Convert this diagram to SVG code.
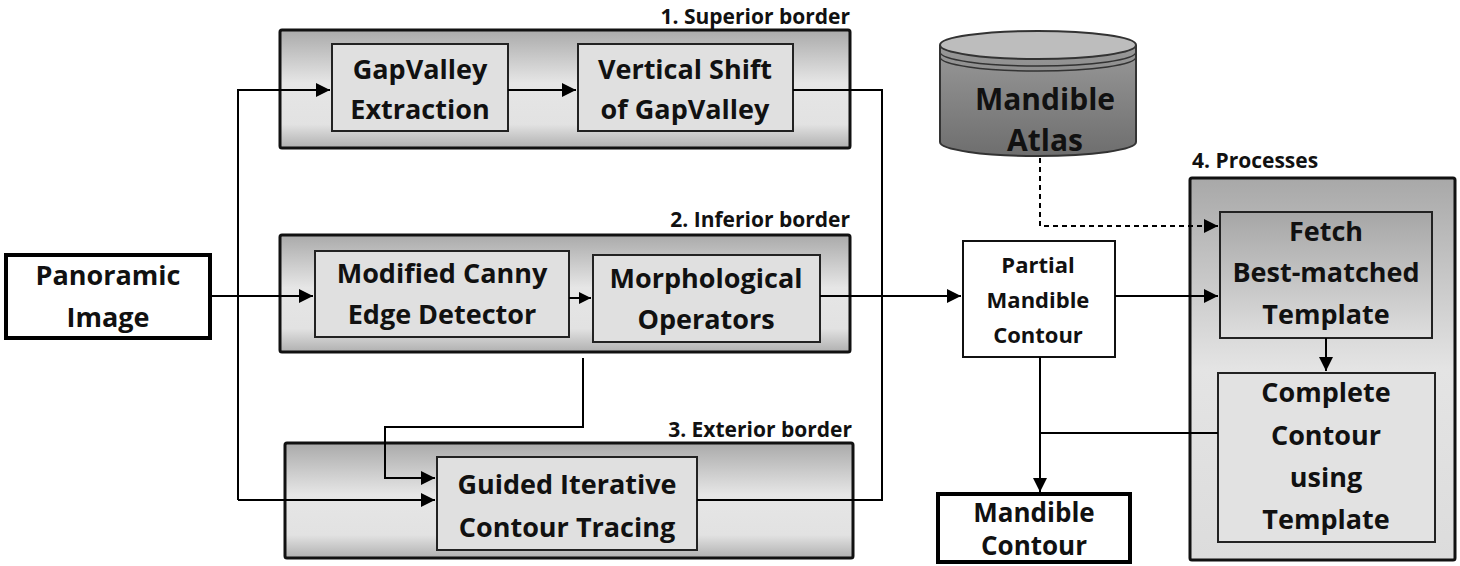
<svg xmlns="http://www.w3.org/2000/svg" width="1460" height="566" viewBox="0 0 1460 566">
<defs>
<linearGradient id="pg" x1="0" y1="0" x2="0" y2="1"><stop offset="0" stop-color="#aaa"/><stop offset="0.45" stop-color="#e6e6e6"/><stop offset="0.8" stop-color="#e2e2e2"/><stop offset="1" stop-color="#b0b0b0"/></linearGradient>
<linearGradient id="p4" x1="0" y1="0" x2="0" y2="1"><stop offset="0" stop-color="#a8a8a8"/><stop offset="0.5" stop-color="#e4e4e4"/><stop offset="1" stop-color="#dcdcdc"/></linearGradient>
<linearGradient id="fg" x1="0" y1="0" x2="0" y2="1"><stop offset="0" stop-color="#a6a6a6"/><stop offset="1" stop-color="#dedede"/></linearGradient>
<linearGradient id="cy" x1="0" y1="0" x2="0" y2="1"><stop offset="0" stop-color="#999"/><stop offset="1" stop-color="#6e6e6e"/></linearGradient>
<marker id="ar" viewBox="0 0 10 10" refX="10" refY="5" markerWidth="14" markerHeight="12" markerUnits="userSpaceOnUse" orient="auto"><path d="M0,0 L10,5 L0,10 z" fill="#000"/></marker>
<marker id="ar2" viewBox="0 0 10 10" refX="10" refY="5" markerWidth="16" markerHeight="14" markerUnits="userSpaceOnUse" orient="auto"><path d="M0,0 L10,5 L0,10 z" fill="#000"/></marker>
</defs>
<style>
text{font-family:"Open Sans","DejaVu Sans",sans-serif;font-weight:bold;fill:#111;text-anchor:middle}
.t{font-size:27px}
.l{font-size:21px;text-anchor:end}
.panel{stroke:#111;stroke-width:3;fill:url(#pg)}
.box{stroke:#222;stroke-width:2;fill:#e0e0e0}
.c{fill:none;stroke:#000;stroke-width:2}
</style>
<g id="panel1"><rect class="panel" x="280" y="30" width="570" height="118" rx="2"/><text class="l" x="850" y="24">1. Superior border</text></g>
<g id="panel2"><rect class="panel" x="280" y="235" width="570" height="117" rx="2"/><text class="l" x="850" y="227">2. Inferior border</text></g>
<g id="panel3"><rect class="panel" x="285" y="443" width="568" height="115" rx="2"/><text class="l" x="852" y="437">3. Exterior border</text></g>
<g id="panel4"><rect x="1190" y="178" width="265" height="382" rx="2" stroke="#111" stroke-width="3" fill="url(#p4)"/><text style="font-size:21px;text-anchor:start" x="1192" y="168">4. Processes</text></g>
<g id="gapvalley"><rect class="box" x="332" y="44" width="176" height="87"/><text class="t" x="420" y="79">GapValley</text><text class="t" x="420" y="119">Extraction</text></g>
<g id="vshift"><rect class="box" x="578" y="44" width="215" height="87"/><text class="t" x="685" y="79">Vertical Shift</text><text class="t" x="685" y="119">of GapValley</text></g>
<g id="canny"><rect class="box" x="315" y="251" width="254" height="86"/><text class="t" x="442" y="283">Modified Canny</text><text class="t" x="442" y="324">Edge Detector</text></g>
<g id="morph"><rect class="box" x="593" y="255" width="227" height="87"/><text class="t" x="706" y="288">Morphological</text><text class="t" x="706" y="329">Operators</text></g>
<g id="guided"><rect class="box" x="437" y="457" width="260" height="93"/><text class="t" x="567" y="494">Guided Iterative</text><text class="t" x="567" y="537">Contour Tracing</text></g>
<g id="panoramic"><rect x="6" y="255" width="204" height="83" fill="#fff" stroke="#000" stroke-width="4"/><text class="t" x="108" y="285">Panoramic</text><text class="t" x="108" y="327">Image</text></g>
<g id="partial"><rect x="963" y="241" width="152" height="116" fill="#fff" stroke="#111" stroke-width="2"/><text style="font-size:22px" x="1038" y="273">Partial</text><text style="font-size:22px" x="1038" y="308">Mandible</text><text style="font-size:22px" x="1038" y="343">Contour</text></g>
<g id="atlas"><path d="M940,45 L940,142 A98,14 0 0 0 1136,142 L1136,45" fill="url(#cy)" stroke="#333" stroke-width="2"/><ellipse cx="1038" cy="45" rx="98" ry="14" fill="#bdbdbd" stroke="#333" stroke-width="2"/><path d="M940,52 A98,14 0 0 0 1136,52 M940,57 A98,14 0 0 0 1136,57" fill="none" stroke="#333" stroke-width="1.5"/><text style="font-size:30px" x="1045" y="110">Mandible</text><text style="font-size:30px" x="1045" y="151">Atlas</text></g>
<g id="fetch"><rect x="1220" y="212" width="212" height="126" fill="url(#fg)" stroke="#222" stroke-width="2"/><text class="t" x="1326" y="241">Fetch</text><text class="t" x="1326" y="282">Best-matched</text><text class="t" x="1326" y="324">Template</text></g>
<g id="complete"><rect x="1218" y="373" width="217" height="169" fill="#e2e2e2" stroke="#222" stroke-width="2"/><text class="t" x="1326" y="402">Complete</text><text class="t" x="1326" y="445">Contour</text><text class="t" x="1326" y="487">using</text><text class="t" x="1326" y="529">Template</text></g>
<g id="mcontour"><rect x="938" y="494" width="192" height="68" fill="#fff" stroke="#000" stroke-width="4"/><text style="font-size:26px" x="1034" y="522">Mandible</text><text style="font-size:26px" x="1034" y="555">Contour</text></g>
<g id="connectors">
<path class="c" d="M238,500 V90 H330" marker-end="url(#ar2)"/>
<path class="c" d="M508,90 H576" marker-end="url(#ar2)"/>
<path class="c" d="M793,90 H882 V500 H697"/>
<path class="c" d="M210,296 H313" marker-end="url(#ar2)"/>
<path class="c" d="M569,298 H591" marker-end="url(#ar)"/>
<path class="c" d="M820,296 H961" marker-end="url(#ar2)"/>
<path class="c" d="M1115,296 H1218" marker-end="url(#ar2)"/>
<path class="c" d="M583,358 V427 H385 V478 H435" marker-end="url(#ar2)"/>
<path class="c" d="M238,500 H435" marker-end="url(#ar2)"/>
<path class="c" d="M1040,158 V226 H1218" stroke-dasharray="5,4" marker-end="url(#ar2)"/>
<path class="c" d="M1326,338 V371" marker-end="url(#ar2)"/>
<path class="c" d="M1218,433 H1040"/>
<path class="c" d="M1040,357 V492" marker-end="url(#ar2)"/>
</g>
</svg>
